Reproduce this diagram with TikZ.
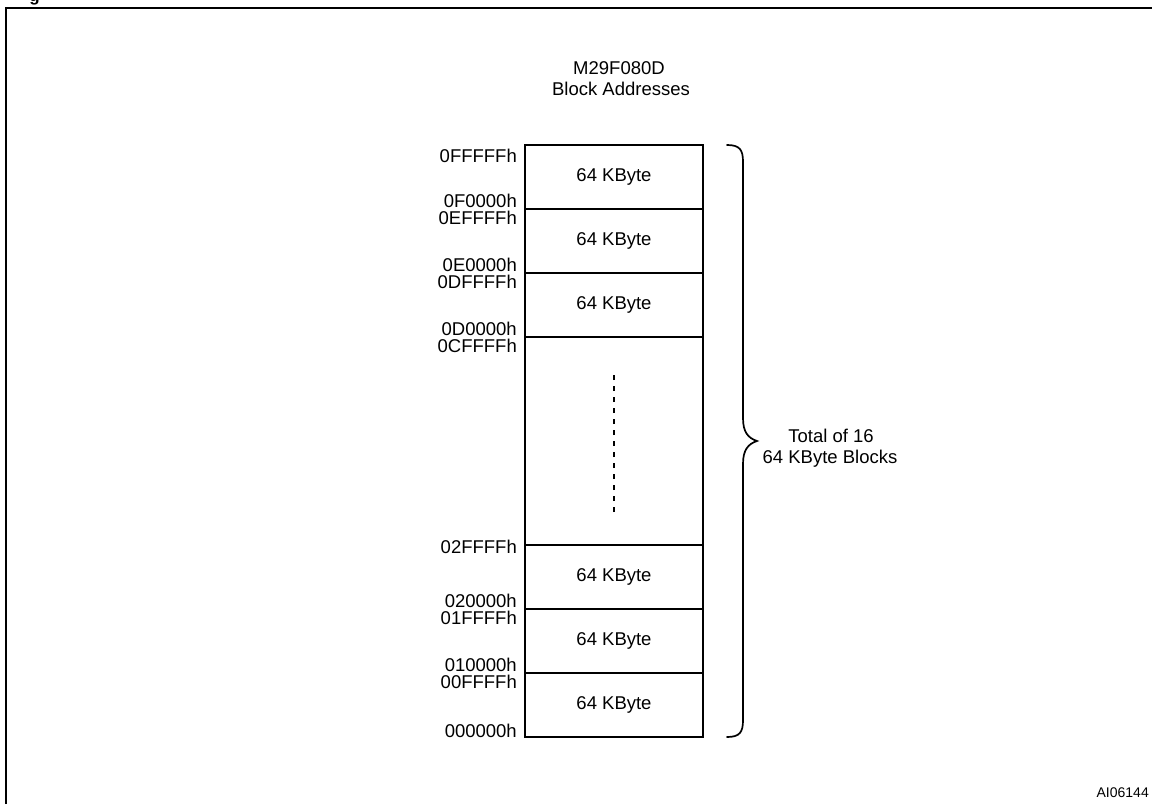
\documentclass[tikz,border=0pt]{standalone}
\usepackage{fontspec}
\setmainfont{Liberation Sans}
\begin{document}
\begin{tikzpicture}[x=1pt,y=-1pt,
  txt/.style={inner sep=0pt,font=\fontsize{18.5}{21}\selectfont},
  addr/.style={txt,anchor=base east},
  blk/.style={draw,line width=2.8pt,minimum width=178pt,inner sep=0pt,font=\fontsize{18.5}{21}\selectfont},
  frame/.style={line width=2pt},
  bracepath/.style={line width=1.7pt,line cap=round}]
\useasboundingbox (0,0) rectangle (1152,804);
% frame
\coordinate (fbl) at (6,804);
\coordinate (ftl) at (6,8);
\coordinate (ftr) at (1152,8);
\draw[frame] (fbl) -- (ftl) -- (ftr);
\node[inner sep=0pt,anchor=base,font=\bfseries\fontsize{17}{20}\selectfont] (fig) at (34.5,1) {g};
% title
\node[txt,anchor=base] (t1) at (619,74) {M29F080D};
\node[txt,anchor=base] (t2) at (621,95) {Block Addresses};
% blocks
\node[blk,minimum height=64pt] (b1) at (614,177) {64 KByte};
\node[blk,minimum height=64pt] (b2) at (614,241) {64 KByte};
\node[blk,minimum height=64pt] (b3) at (614,305) {64 KByte};
\node[blk,minimum height=208pt] (mid) at (614,441) {};
\node[blk,minimum height=64pt] (b4) at (614,577) {64 KByte};
\node[blk,minimum height=64pt] (b5) at (614,641) {64 KByte};
\node[blk,minimum height=64pt] (b6) at (614,705) {64 KByte};
\draw[line width=2.5pt,dash pattern=on 5.5pt off 5.5pt] ([yshift=-71pt]mid.center) -- ([yshift=69pt]mid.center);
% addresses
\node[addr] (a1) at (517,162) {0FFFFFh};
\node[addr] (a2) at (517,207) {0F0000h};
\node[addr] (a3) at (517,224.5) {0EFFFFh};
\node[addr] (a4) at (517,271) {0E0000h};
\node[addr] (a5) at (517,288.5) {0DFFFFh};
\node[addr] (a6) at (517,335) {0D0000h};
\node[addr] (a7) at (517,352.5) {0CFFFFh};
\node[addr] (a8) at (517,553) {02FFFFh};
\node[addr] (a9) at (517,607) {020000h};
\node[addr] (a10) at (517,624.5) {01FFFFh};
\node[addr] (a11) at (517,671) {010000h};
\node[addr] (a12) at (517,688.5) {00FFFFh};
\node[addr] (a13) at (517,737) {000000h};
% brace
\coordinate (br1) at (727,145);
\coordinate (br2) at (743,737);
\coordinate (tip) at (757,441);
\draw[bracepath] (br1) .. controls (740,145) and (743,150) .. (743,162)
  -- (743,418) .. controls (743,432) and (748,438) .. (tip)
  .. controls (748,444) and (743,450) .. (743,464)
  -- (743,720) .. controls (743,732) and (740,737) .. (727,737);
\node[txt,anchor=base] (tot1) at (831,442) {Total of 16};
\node[txt,anchor=base] (tot2) at (830,463) {64 KByte Blocks};
\node[inner sep=0pt,anchor=base east,font=\fontsize{14}{16}\selectfont] (ai) at (1149,797) {AI06144};
\end{tikzpicture}
\end{document}
